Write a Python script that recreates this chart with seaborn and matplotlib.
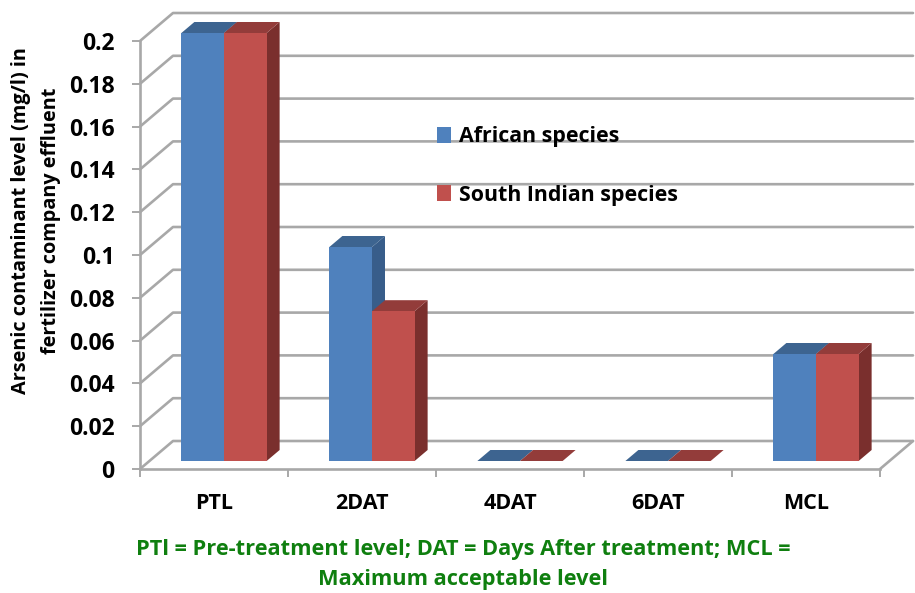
import matplotlib
matplotlib.use('Agg')
import matplotlib.pyplot as plt
from matplotlib.patches import Polygon, Rectangle
from matplotlib.lines import Line2D
from matplotlib.transforms import Affine2D, IdentityTransform
import numpy as np
import pandas as pd
import seaborn as sns

categories = ['PTL', '2DAT', '4DAT', '6DAT', 'MCL']
african = [0.2, 0.1, 0, 0, 0.05]
south_indian = [0.2, 0.07, 0, 0, 0.05]
series_names = ['African species', 'South Indian species']
y_ticks = [0, 0.02, 0.04, 0.06, 0.08, 0.1, 0.12, 0.14, 0.16, 0.18, 0.2]
y_labels = ['0', '0.02', '0.04', '0.06', '0.08', '0.1', '0.12', '0.14', '0.16', '0.18', '0.2']

W, H = 915, 593
GRID = '#a8a8a8'
GREEN = '#0f7f0f'
front_cols = ['#4f81bd', '#c0504d']
top_cols = ['#3d6490', '#933c3a']
side_cols = ['#385d8a', '#7a2f2d']

sns.set_style('white')
plt.rcParams['font.family'] = ['Open Sans', 'DejaVu Sans']
plt.rcParams['font.weight'] = 'bold'

df = pd.DataFrame({
    'cat': categories * 2,
    'val': african + south_indian,
    'species': [series_names[0]] * 5 + [series_names[1]] * 5,
})

fig = plt.figure(figsize=(W / 100, H / 100), dpi=100)
ax = fig.add_axes([140 / W, 124 / H, 740 / W, 428 / H])
sns.barplot(data=df, x='cat', y='val', hue='species', order=categories, hue_order=series_names,
            palette=front_cols, width=0.576, gap=0, saturation=1, legend=False, ax=ax, zorder=5)
ax.set_xlim(-0.5, 4.5)
ax.set_ylim(0, 0.2)
ax.patch.set_alpha(0)

# walls: everything below is in pixels, worked out from the axes
px = IdentityTransform()
wall_dx, wall_dy = 33, 28
bar_dx, bar_dy = 10, 8
depth_dx, depth_dy = 13, 11


def line_px(xs, ys, **kw):
    ax.add_line(Line2D(xs, ys, transform=px, clip_on=False, color=GRID, lw=1.9, zorder=1, **kw))


x_left, y_zero = ax.transData.transform((-0.5, 0))
x_right = ax.transData.transform((4.5, 0))[0]
for t in y_ticks:
    y = ax.transData.transform((0, t))[1]
    line_px([x_left, x_left + wall_dx, x_right + wall_dx], [y, y + wall_dy, y + wall_dy])
line_px([x_right, x_right + wall_dx], [y_zero, y_zero + wall_dy])

# fake 3d bars, front face shifted onto the floor, top and side added
shift = ax.transData + Affine2D().translate(bar_dx, bar_dy)
for i, cont in enumerate(ax.containers):
    for bar in cont:
        bar.set_transform(shift)
        bar.set_clip_on(False)
        bar.set_edgecolor('none')
        bar.set_linewidth(0)
        bar.set_zorder(5 + i * 2 + 1)
        bx, bh, bw = bar.get_x(), bar.get_height(), bar.get_width()
        (x0, y0), (x1, y1) = shift.transform([(bx, 0), (bx + bw, bh)])
        top = [(x0, y1), (x1, y1), (x1 + depth_dx, y1 + depth_dy), (x0 + depth_dx, y1 + depth_dy)]
        side = [(x1, y0), (x1 + depth_dx, y0 + depth_dy), (x1 + depth_dx, y1 + depth_dy), (x1, y1)]
        ax.add_patch(Polygon(side, closed=True, transform=px, clip_on=False, fc=side_cols[i], ec='none', zorder=5 + i * 2))
        ax.add_patch(Polygon(top, closed=True, transform=px, clip_on=False, fc=top_cols[i], ec='none', zorder=5 + i * 2))

ax.set_xlabel('')
ax.set_ylabel('')
ax.set_yticks(y_ticks)
ax.set_yticklabels(y_labels)
ax.set_xticks(np.arange(-0.5, 5), minor=True)
ax.tick_params(axis='x', which='major', length=0, labelsize=15.5, pad=17, labelcolor='black')
ax.tick_params(axis='x', which='minor', length=5.5, width=1.4, color=GRID, bottom=True)
ax.tick_params(axis='y', length=5.5, width=1.4, color=GRID, left=True, labelsize=16.5, pad=13, labelcolor='black')
sns.despine(ax=ax)
for s in ['left', 'bottom']:
    ax.spines[s].set_color(GRID)
    ax.spines[s].set_linewidth(1.9)

fig.text(36 / W, 1 - 221 / H, 'Arsenic contaminant level (mg/l) in\nfertilizer company effluent',
         rotation=90, ha='center', va='center', fontsize=14.3, fontweight='bold', color='black', linespacing=1.7)

# legend
for name, col, yp in zip(series_names, front_cols, [135, 193]):
    fig.text(459 / W, 1 - (yp + 2) / H, name, ha='left', va='center', fontsize=15.4, fontweight='bold', color='black')
    fig.add_artist(Rectangle((437 / W, 1 - (yp + 8) / H), 14 / W, 16 / H, transform=fig.transFigure, fc=col, ec='none'))

fig.text(463 / W, 1 - 550 / H, 'PTl = Pre-treatment level; DAT = Days After treatment; MCL =',
         ha='center', va='center', fontsize=15.7, fontweight='bold', color=GREEN)
fig.text(463 / W, 1 - 580 / H, 'Maximum acceptable level',
         ha='center', va='center', fontsize=15.7, fontweight='bold', color=GREEN)

fig.savefig('out.png', dpi=100)
